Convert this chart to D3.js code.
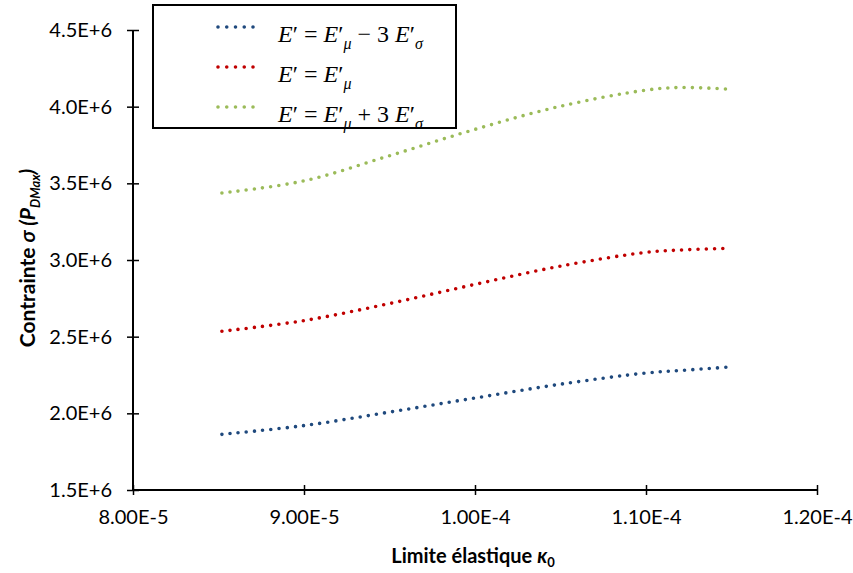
<!DOCTYPE html>
<html>
<head>
<meta charset="utf-8">
<script src="https://cdn.jsdelivr.net/npm/d3@7"></script>
<style>
  html, body { margin: 0; padding: 0; background: #fff; }
  svg { display: block; }
</style>
</head>
<body>
<svg id="chart" width="853" height="573"></svg>
<script>
// ---- data ----
const kappa = [8.52e-5, 9.0e-5, 9.5e-5, 1.0e-4, 1.05e-4, 1.10e-4, 1.12e-4, 1.149e-4];
const sigmaMinus = [1.863e6, 1.920e6, 2.008e6, 2.100e6, 2.190e6, 2.263e6, 2.279e6, 2.302e6];
const sigmaMean  = [2.535e6, 2.605e6, 2.716e6, 2.841e6, 2.960e6, 3.050e6, 3.065e6, 3.076e6];
const sigmaPlus  = [3.437e6, 3.516e6, 3.680e6, 3.852e6, 4.003e6, 4.108e6, 4.125e6, 4.114e6];
const seriesColors = ["#1F497D", "#C00000", "#9BBB59"];
const xTickValues = [8e-5, 9e-5, 1e-4, 1.1e-4, 1.2e-4];
const xTickLabels = ["8.00E-5", "9.00E-5", "1.00E-4", "1.10E-4", "1.20E-4"];
const yTickValues = [1.5e6, 2.0e6, 2.5e6, 3.0e6, 3.5e6, 4.0e6, 4.5e6];
const yTickLabels = ["1.5E+6", "2.0E+6", "2.5E+6", "3.0E+6", "3.5E+6", "4.0E+6", "4.5E+6"];

const series = [
  { values: sigmaMinus, color: seriesColors[0], sign: "−" },
  { values: sigmaMean,  color: seriesColors[1], sign: null },
  { values: sigmaPlus,  color: seriesColors[2], sign: "+" }
];

const svg = d3.select("#chart");
const x = d3.scaleLinear().domain([8e-5, 1.2e-4]).range([133, 817]);
const y = d3.scaleLinear().domain([1.5e6, 4.5e6]).range([490, 30]);

const tickFont = "Lato, 'Open Sans', sans-serif";

// axes
const xAxis = d3.axisBottom(x).tickValues(xTickValues)
  .tickFormat((d, i) => xTickLabels[i]).tickSizeOuter(0).tickSizeInner(5).tickPadding(15);
const gx = svg.append("g").attr("transform", `translate(0,${y(1.5e6)})`).call(xAxis);
gx.select(".domain").attr("stroke", "#000").attr("stroke-width", 2).attr("d", `M${x(8e-5)},0H${x(1.2e-4)}`);
gx.selectAll(".tick line").attr("y1", -5).attr("y2", 5).attr("stroke", "#000").attr("stroke-width", 1.5);
gx.selectAll(".tick text").attr("font-family", tickFont).attr("font-size", 20).attr("fill", "#000");

const yAxis = d3.axisLeft(y).tickValues(yTickValues)
  .tickFormat((d, i) => yTickLabels[i]).tickSizeOuter(0).tickSizeInner(5).tickPadding(16);
const gy = svg.append("g").attr("transform", `translate(${x(8e-5)},0)`).call(yAxis);
gy.select(".domain").attr("stroke", "#000").attr("stroke-width", 2).attr("d", `M0,${y(4.5e6)}V${y(1.5e6)}`);
gy.selectAll(".tick line").attr("x1", -6).attr("x2", 6).attr("stroke", "#000").attr("stroke-width", 1.5);
gy.selectAll(".tick text").attr("font-family", tickFont).attr("font-size", 20).attr("fill", "#000");

// lines
const line = d3.line()
  .x((d, i) => x(kappa[i]))
  .y(d => y(d))
  .curve(d3.curveCatmullRom.alpha(0.5));

series.forEach(s => {
  svg.append("path")
    .attr("d", line(s.values))
    .attr("fill", "none")
    .attr("stroke", s.color)
    .attr("stroke-width", 3.6)
    .attr("stroke-linecap", "round")
    .attr("stroke-dasharray", "0 8.2");
});

// axis titles
svg.append("text")
  .attr("x", 473).attr("y", 563)
  .attr("text-anchor", "middle")
  .attr("font-family", tickFont).attr("font-weight", "bold").attr("font-size", 20)
  .call(t => {
    t.append("tspan").text("Limite élastique ");
    t.append("tspan").attr("font-style", "italic").text("κ");
    t.append("tspan").attr("font-size", 13).attr("dy", 4).text("0");
  });

svg.append("text")
  .attr("transform", "translate(35,258) rotate(-90)")
  .attr("text-anchor", "middle")
  .attr("font-family", tickFont).attr("font-weight", "bold").attr("font-size", 21)
  .call(t => {
    t.append("tspan").text("Contrainte ");
    t.append("tspan").attr("font-style", "italic").text("σ (P");
    t.append("tspan").attr("font-style", "italic").attr("font-size", 13).attr("dy", 5).text("DMax");
    t.append("tspan").attr("font-style", "italic").attr("dy", -5).text(")");
  });

// legend
const lg = svg.append("g");
lg.append("rect").attr("x", 153).attr("y", 5).attr("width", 303).attr("height", 123)
  .attr("fill", "#fff").attr("stroke", "#000").attr("stroke-width", 2);

const rowY = [27, 67, 107];
const mathFont = "'Liberation Serif', 'DejaVu Serif', serif";
series.forEach((s, i) => {
  lg.append("line")
    .attr("x1", 218).attr("x2", 254).attr("y1", rowY[i]).attr("y2", rowY[i])
    .attr("stroke", s.color).attr("stroke-width", 3.6)
    .attr("stroke-linecap", "round").attr("stroke-dasharray", "0 8.75");
  const t = lg.append("text").attr("x", 278).attr("y", rowY[i] + 15)
    .attr("font-family", mathFont).attr("font-size", 24).attr("fill", "#000");
  t.append("tspan").attr("font-style", "italic").text("E");
  t.append("tspan").text("′ = ");
  t.append("tspan").attr("font-style", "italic").text("E");
  t.append("tspan").text("′");
  t.append("tspan").attr("font-style", "italic").attr("font-size", 16).attr("dy", 7).text("μ");
  if (s.sign) {
    t.append("tspan").attr("dy", -7).text(" " + s.sign + " 3 ");
    t.append("tspan").attr("font-style", "italic").text("E");
    t.append("tspan").text("′");
    t.append("tspan").attr("font-style", "italic").attr("font-size", 16).attr("dy", 7).text("σ");
  }
});
</script>
</body>
</html>
